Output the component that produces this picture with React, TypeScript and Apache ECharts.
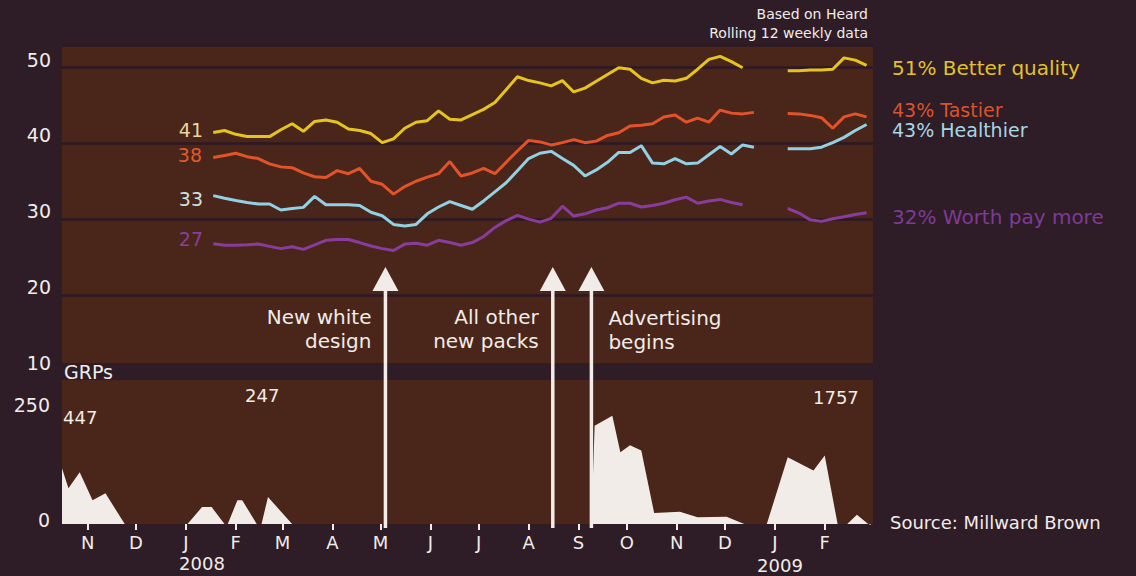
import React, { useEffect, useRef } from "react";
import * as echarts from "echarts";

const DAY = 86400000;
const ts = (s: string) => Date.UTC(+s.slice(0, 4), +s.slice(5, 7) - 1, +s.slice(8, 10));

const AXIS_MIN = "2007-10-16";
const AXIS_MAX = "2009-03-03";
const LAST_MONTH_LABEL = "2009-02-01";
const TRACK_START = "2008-01-18";
const TRACK_WEEKS = 59;
const monthLetters = ["J", "F", "M", "A", "M", "J", "J", "A", "S", "O", "N", "D"];
const topTicks = [10, 20, 30, 40, 50];
const grpTicks = [0, 250];

// Rolling 12 weekly tracking (% heard)
const betterQuality = [
  41.45, 41.7, 41.2, 40.9, 40.9, 40.9, 41.8, 42.6, 41.6, 42.9, 43.1, 42.8, 41.9, 41.7, 41.3, 40.1,
  40.6, 42.0, 42.8, 43.0, 44.3, 43.2, 43.1, 43.8, 44.5, 45.4, 47.1, 48.8, 48.3, 48.0, 47.6, 48.3,
  46.8, 47.3, 48.2, 49.1, 50.0, 49.8, 48.6, 48.0, 48.35, 48.25, 48.6, 49.8, 51.1, 51.5, 50.8, 50.0,
  null, null, null, 49.6, 49.6, 49.7, 49.7, 49.8, 51.3, 51.0, 50.3,
];
const tastier = [
  38.15, 38.4, 38.7, 38.25, 38.0, 37.3, 36.9, 36.8, 36.1, 35.6, 35.5, 36.4, 36.0, 36.7, 35.0, 34.6,
  33.3, 34.3, 35.0, 35.55, 36.0, 37.6, 35.7, 36.1, 36.7, 36.0, 37.5, 39.0, 40.4, 40.2, 39.8, 40.1,
  40.5, 40.1, 40.3, 41.05, 41.4, 42.3, 42.4, 42.6, 43.5, 43.75, 42.8, 43.35, 42.8, 44.4, 44.0, 43.9,
  44.1, null, null, 43.95, 43.9, 43.7, 43.4, 42.0, 43.5, 43.9, 43.5,
];
const healthier = [
  33.1, 32.75, 32.45, 32.2, 32.0, 32.0, 31.2, 31.4, 31.55, 33.0, 31.9, 31.9, 31.9, 31.8, 30.9, 30.45,
  29.3, 29.1, 29.3, 30.7, 31.6, 32.3, 31.8, 31.3, 32.4, 33.6, 34.8, 36.4, 38.0, 38.7, 38.95, 38.0,
  37.1, 35.7, 36.5, 37.5, 38.8, 38.8, 39.7, 37.4, 37.3, 38.0, 37.3, 37.4, 38.5, 39.6, 38.6, 39.8,
  39.5, null, null, 39.3, 39.3, 39.3, 39.5, 40.1, 40.8, 41.7, 42.5,
];
const worthPayMore = [
  26.75, 26.55, 26.55, 26.6, 26.7, 26.4, 26.1, 26.35, 26.0, 26.6, 27.2, 27.3, 27.3, 26.9, 26.45, 26.1,
  25.85, 26.7, 26.8, 26.55, 27.2, 26.9, 26.55, 26.9, 27.7, 28.9, 29.8, 30.5, 30.0, 29.6, 30.1, 31.7,
  30.4, 30.7, 31.2, 31.5, 32.1, 32.1, 31.6, 31.8, 32.1, 32.55, 32.9, 32.1, 32.4, 32.6, 32.2, 31.9,
  null, null, null, 31.4, 30.8, 29.9, 29.7, 30.05, 30.3, 30.6, 30.85,
];

// GRPs
const grpDates = [
  "2007-10-16", "2007-10-20", "2007-10-27", "2007-11-04", "2007-11-12", "2007-11-24",
  "2008-01-02", "2008-01-11", "2008-01-17", "2008-01-25", "2008-01-27", "2008-02-02",
  "2008-02-05", "2008-02-14", "2008-02-17", "2008-02-21", "2008-03-07", "2008-09-09",
  "2008-09-11", "2008-09-22", "2008-09-27", "2008-10-03", "2008-10-10", "2008-10-18",
  "2008-11-03", "2008-11-14", "2008-12-02", "2008-12-13", "2008-12-27", "2009-01-09",
  "2009-01-25", "2009-02-01", "2009-02-09", "2009-02-15", "2009-02-21", "2009-02-28",
];
const grpValues = [
  122, 78, 113, 52, 67, 0, 0, 37, 37, 0, 0, 52, 52, 0, 0, 59, 0, 0, 215, 237, 157, 172, 161, 24, 27,
  15, 16, 0, 0, 146, 117, 150, 0, 0, 20, 0,
];

const events = [
  { date: "2008-05-04", text: "New white\ndesign", side: "left" },
  { date: "2008-08-16", text: "All other\nnew packs", side: "left" },
  { date: "2008-09-09", text: "Advertising\nbegins", side: "right" },
];

const BG = "#2e1c26";
const BROWN = "#4a2519";
const GRIDLINE = "#2b1a25";
const WHITE = "#f1ece8";
const YELLOW = "#e6c41f";
const RED = "#e3532a";
const CYAN = "#92d0e4";
const PURPLE = "#8a3c9e";
const FONT = "DejaVu Sans";

const trackDates = Array.from({ length: TRACK_WEEKS }, (_, j) => ts(TRACK_START) + j * 7 * DAY);
const pairs = (vals: (number | null)[]) => trackDates.map((t, i) => [t, vals[i]]);

function txt(x: number, y: number, text: string, fill: string, size: number, align = "left", extra: any = {}) {
  return {
    type: "text",
    x,
    y,
    z: 40,
    style: {
      text,
      fill,
      fontSize: size,
      fontFamily: FONT,
      align,
      textAlign: align,
      verticalAlign: "middle",
      textVerticalAlign: "middle",
      ...extra,
    },
  };
}

export default function App() {
  const ref = useRef<HTMLDivElement>(null);
  useEffect(() => {
    const chart = echarts.init(ref.current!, null, { renderer: "svg" });
    const lineSeries = (name: string, vals: (number | null)[], color: string) => ({
      name,
      type: "line",
      xAxisIndex: 0,
      yAxisIndex: 0,
      data: pairs(vals),
      showSymbol: false,
      symbol: "none",
      lineStyle: { color, width: 3 },
      z: 5,
    });
    chart.setOption({
      animation: false,
      useUTC: true,
      backgroundColor: BG,
      textStyle: { fontFamily: FONT },
      grid: [
        { left: 62, right: 263, top: 45, height: 325.5, show: true, backgroundColor: BROWN, borderWidth: 0 },
        { left: 62, right: 263, top: 380, height: 144, show: true, backgroundColor: BROWN, borderWidth: 0 },
      ],
      xAxis: [
        { type: "time", gridIndex: 0, min: ts(AXIS_MIN), max: ts(AXIS_MAX), show: false },
        {
          type: "time",
          gridIndex: 1,
          min: ts(AXIS_MIN),
          max: ts(AXIS_MAX),
          minInterval: 30 * DAY,
          maxInterval: 30 * DAY,
          axisLine: { show: false },
          axisTick: { show: true, length: 6, lineStyle: { color: WHITE, width: 2 } },
          splitLine: { show: false },
          axisLabel: {
            color: WHITE,
            fontSize: 18,
            margin: 9,
            fontFamily: FONT,
            formatter: (v: number) => {
              const d = new Date(v);
              if (d.getUTCDate() !== 1 || v > ts(LAST_MONTH_LABEL)) return "";
              return monthLetters[d.getUTCMonth()];
            },
          },
        },
      ],
      yAxis: [
        {
          type: "value",
          gridIndex: 0,
          min: 10,
          max: 53,
          interval: 10,
          axisLine: { show: false },
          axisTick: { show: false },
          splitLine: { show: true, lineStyle: { color: GRIDLINE, width: 2.5 } },
          axisLabel: {
            color: WHITE,
            fontSize: 19,
            margin: 11,
            fontFamily: FONT,
            verticalAlign: "bottom",
            lineHeight: 16,
            formatter: (v: number) => (topTicks.includes(v) ? String(v) : ""),
          },
        },
        {
          type: "value",
          gridIndex: 1,
          min: 0,
          max: 315,
          interval: 250,
          axisLine: { show: false },
          axisTick: { show: false },
          splitLine: { show: false },
          axisLabel: {
            color: WHITE,
            fontSize: 19,
            margin: 12,
            fontFamily: FONT,
            verticalAlign: "bottom",
            lineHeight: 9,
            formatter: (v: number) => (grpTicks.includes(v) ? String(v) : ""),
          },
        },
      ],
      series: [
        lineSeries("Better quality", betterQuality, YELLOW),
        lineSeries("Tastier", tastier, RED),
        lineSeries("Healthier", healthier, CYAN),
        lineSeries("Worth pay more", worthPayMore, PURPLE),
        {
          name: "GRPs",
          type: "line",
          xAxisIndex: 1,
          yAxisIndex: 1,
          data: grpDates.map((d, i) => [ts(d), grpValues[i]]),
          showSymbol: false,
          symbol: "none",
          lineStyle: { width: 0, color: WHITE },
          areaStyle: { color: WHITE, opacity: 1 },
          z: 4,
        },
      ],
    });

    const px = (d: string) => chart.convertToPixel({ xAxisIndex: 1 }, ts(d)) as number;
    const marchTick = px("2009-03-01");
    const left = px(AXIS_MIN);
    const right = px(AXIS_MAX);
    const graphic: any[] = [
      { type: "rect", z: 10, shape: { x: left, y: 363, width: right - left, height: 17 }, style: { fill: BG } },
      { type: "rect", z: 10, shape: { x: marchTick - 3, y: 524.5, width: 6, height: 8 }, style: { fill: BG } },
      txt(868, 14, "Based on Heard", WHITE, 14, "right"),
      txt(868, 33, "Rolling 12 weekly data", WHITE, 14, "right"),
      txt(892, 68, "51% Better quality", "#e2c22a", 20),
      txt(892, 110, "43% Tastier", "#db532c", 19),
      txt(892, 130, "43% Healthier", "#a8d6e3", 19),
      txt(892, 217, "32% Worth pay more", "#7f3a97", 20),
      txt(203, 130, "41", "#e6d89c", 19, "right"),
      txt(202, 155, "38", "#e0592d", 19, "right"),
      txt(203, 199, "33", "#cde2e0", 19, "right"),
      txt(203, 239, "27", "#8a3ea0", 19, "right"),
      txt(64, 372, "GRPs", WHITE, 19),
      txt(63, 417, "447", WHITE, 18),
      txt(245, 395, "247", WHITE, 18),
      txt(813, 397, "1757", WHITE, 18),
      txt(202, 563, "2008", WHITE, 18, "center"),
      txt(780, 565, "2009", WHITE, 18, "center"),
      txt(890, 522, "Source: Millward Brown", WHITE, 18),
    ];
    events.forEach((e) => {
      const x = px(e.date);
      graphic.push({ type: "rect", z: 30, shape: { x: x - 1.75, y: 288, width: 3.5, height: 240 }, style: { fill: WHITE } });
      graphic.push({
        type: "polygon",
        z: 30,
        shape: { points: [[x - 13, 291], [x + 13, 291], [x, 267]] },
        style: { fill: WHITE },
      });
      if (e.side === "left") {
        graphic.push(txt(x - 14, 329, e.text, WHITE, 20, "right", { lineHeight: 24 }));
      } else {
        graphic.push(txt(x + 17, 329.5, e.text, WHITE, 20, "left", { lineHeight: 24 }));
      }
    });
    chart.setOption({ graphic });
    return () => chart.dispose();
  }, []);
  return <div ref={ref} style={{ position: "fixed", left: 0, top: 0, width: 1136, height: 576 }} />;
}
